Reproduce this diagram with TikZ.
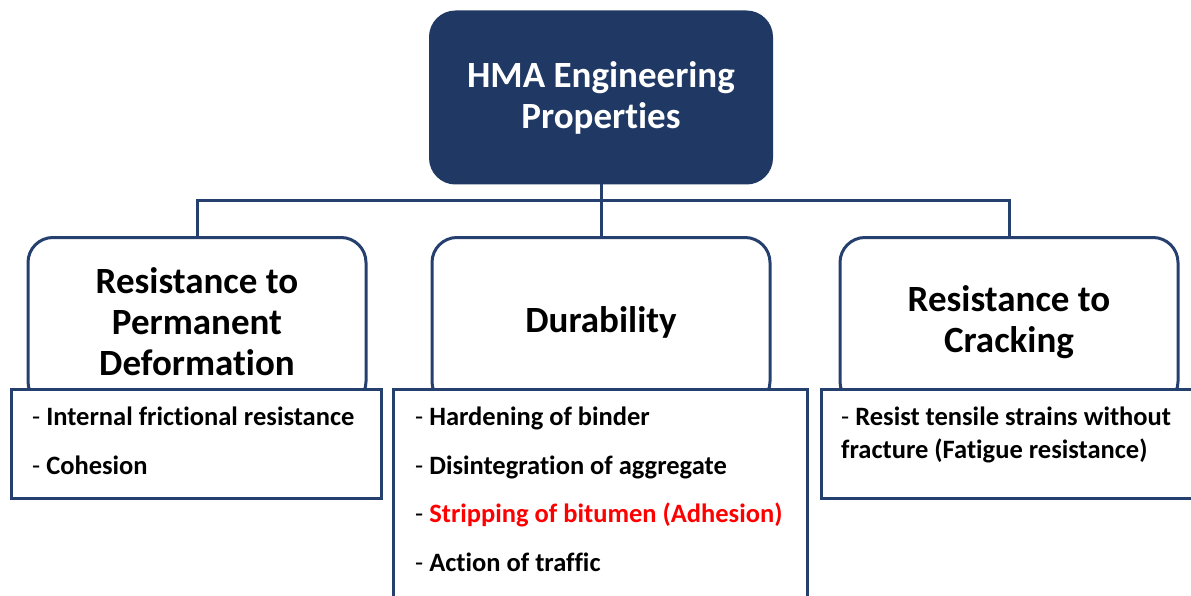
\documentclass[tikz,border=0pt]{standalone}
\usepackage{fontspec}
\setmainfont{Carlito}[Ligatures={NoCommon}]
\definecolor{navy}{HTML}{203864}
\definecolor{navyline}{HTML}{25406E}
\definecolor{alert}{HTML}{FF0000}
\tikzset{
  headbox/.style={draw=navy, fill=navy, line width=3pt, rounded corners=25pt,
    minimum width=341pt, minimum height=171pt, text=white, align=center,
    font=\fontsize{37}{41}\selectfont\bfseries, inner sep=0pt},
  groupbox/.style={draw=navyline, fill=white, line width=3pt, rounded corners=25pt,
    minimum width=338pt, minimum height=169pt, align=center, anchor=north,
    font=\fontsize{37}{41}\selectfont\bfseries, inner sep=0pt},
  listbox/.style={draw=navyline, fill=white, line width=3pt, anchor=north west,
    inner sep=0pt},
  item/.style={anchor=base west, inner sep=0pt, font=\fontsize{26.5}{33}\selectfont\bfseries},
  link/.style={draw=navyline, line width=3pt},
}
\newcommand{\dash}{{\mdseries -}\ }
\begin{document}
\begin{tikzpicture}[x=1pt, y=-1pt]
\useasboundingbox (0,0) rectangle (1191,596);
\clip (0,0) rectangle (1191,596);

% root
\node[headbox] (root) at (601,97.5) {HMA Engineering\\Properties};

% property groups
\node[groupbox] (perm) at (197,236) {Resistance to\\Permanent\\Deformation};
\node[groupbox] (dura) at (601,236) {Durability};
\node[groupbox] (crack) at (1009,236) {Resistance to\\Cracking};

% connectors
\coordinate (bus) at (601,201);
\draw[link] (perm.north) |- (bus) -| (crack.north);
\draw[link] (root.south) -- (dura.north);

% detail lists
\node[listbox, minimum width=370pt, minimum height=109pt] (permlist) at (10,388) {};
\node[listbox, minimum width=414pt, minimum height=240pt] (duralist) at (392,388) {};
\node[listbox, minimum width=390pt, minimum height=109pt] (cracklist) at (820,388) {};

\node[item] (p1) at (32,425) {\dash Internal frictional resistance};
\node[item] (p2) at (32,474) {\dash Cohesion};

\node[item] (d1) at (415,425) {\dash Hardening of binder};
\node[item] (d2) at (415,474) {\dash Disintegration of aggregate};
\node[item] (d3) at (415,522) {\dash\textcolor{alert}{Stripping of bitumen (Adhesion)}};
\node[item] (d4) at (415,571) {\dash Action of traffic};

\node[item] (c1) at (841,425) {\dash Resist tensile strains without};
\node[item] (c2) at (841,458) {fracture (Fatigue resistance)};
\end{tikzpicture}
\end{document}
